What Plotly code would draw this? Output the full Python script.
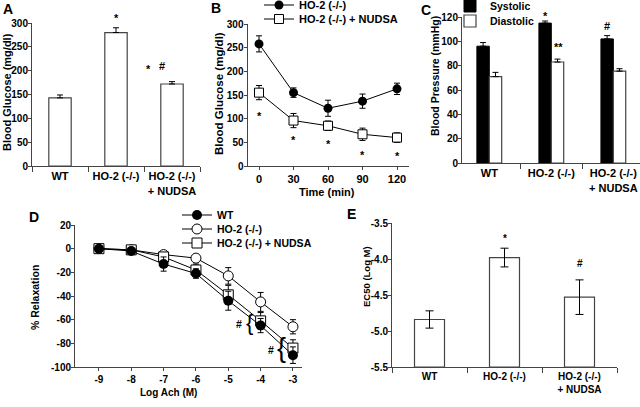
import plotly.graph_objects as go

W, H = 640, 407
FONT = "Liberation Sans"

# ---------------- data ----------------
# Panel A
a_cats = ["WT", "HO-2 (-/-)", "HO-2 (-/-)<br>+ NUDSA"]
a_glucose = [143, 280, 172]
a_err = [6, 10, 5]

# Panel B
b_time = [0, 30, 60, 90, 120]
b_ho2 = [258, 155, 122, 137, 163]
b_ho2_err = [17, 10, 17, 15, 12]
b_nudsa = [155, 96, 85, 67, 60]
b_nudsa_err = [15, 15, 10, 13, 10]
b_star_y = [112, 62, 53, 30, 28]

# Panel C
c_cats = a_cats
c_sys = [96, 115, 102]
c_sys_err = [3, 1.7, 2.7]
c_dia = [71, 83, 75.5]
c_dia_err = [3.5, 2.4, 2]

# Panel D
d_logach = [-9, -8, -7, -6, -5, -4, -3]
d_wt = [0, -2, -13, -21, -44, -65, -90]
d_wt_err = [0, 1, 6, 4, 8, 6, 7]
d_ho2 = [0, -1, -5, -8, -23, -45, -66]
d_ho2_err = [0, 1, 2, 3, 7, 8, 6]
d_nudsa = [0, -1, -7, -18, -39, -61, -84]
d_nudsa_err = [0, 1, 3, 5, 8, 7, 7]
d_xticks = [-9, -8, -7, -6, -5, -4, -3]
d_yticks = [20, 0, -20, -40, -60, -80, -100]

# Panel E
e_cats = a_cats
e_ec50 = [-4.84, -3.98, -4.53]
e_err = [0.12, 0.13, 0.24]
e_base = -5.5
e_yticks = [-3.5, -4.0, -4.5, -5.0, -5.5]

# ---------------- helpers ----------------
def xdom(l, r):
    return [l / W, r / W]

def ydom(top, bottom):
    return [1 - bottom / H, 1 - top / H]

def px(x):
    return x / W

def py(y):
    return 1 - y / H

AXC = "#444"
common = dict(showline=True, linecolor=AXC, linewidth=1, showgrid=False,
              zeroline=False, ticks="outside", ticklen=3, tickcolor=AXC,
              tickfont=dict(size=10, family=FONT, weight="bold", color="black"))
ycommon = dict(common, ticklabelstandoff=-2)

err_up = lambda arr: dict(type="data", array=arr, arrayminus=[0] * len(arr),
                          symmetric=False, color="black", thickness=1, width=3)
err_sym = lambda arr, w=3: dict(type="data", array=arr, color="black", thickness=1, width=w)

fig = go.Figure()

# A
fig.add_trace(go.Bar(x=a_cats, y=a_glucose, error_y=err_up(a_err),
                     marker=dict(color="white", line=dict(color=AXC, width=1.2)),
                     xaxis="x", yaxis="y", showlegend=False))

# B
fig.add_trace(go.Scatter(x=b_time, y=b_ho2, error_y=err_sym(b_ho2_err),
                         mode="lines+markers", name="HO-2 (-/-)",
                         line=dict(color="black", width=1),
                         marker=dict(symbol="circle", size=9, color="black"),
                         xaxis="x2", yaxis="y2", legend="legend"))
fig.add_trace(go.Scatter(x=b_time, y=b_nudsa, error_y=err_sym(b_nudsa_err),
                         mode="lines+markers", name="HO-2 (-/-) + NUDSA",
                         line=dict(color="black", width=1),
                         marker=dict(symbol="square", size=9, color="white",
                                     line=dict(color="black", width=1)),
                         xaxis="x2", yaxis="y2", legend="legend2"))

# C
fig.add_trace(go.Bar(x=c_cats, y=c_sys, error_y=err_up(c_sys_err), name="Systolic",
                     marker=dict(color="black", line=dict(color="black", width=1)),
                     xaxis="x3", yaxis="y3", legend="legend3"))
fig.add_trace(go.Bar(x=c_cats, y=c_dia, error_y=err_up(c_dia_err), name="Diastolic",
                     marker=dict(color="white", line=dict(color=AXC, width=1.2)),
                     xaxis="x3", yaxis="y3", legend="legend4"))

# D
fig.add_trace(go.Scatter(x=d_logach, y=d_ho2, error_y=err_sym(d_ho2_err),
                         mode="lines+markers", name="HO-2 (-/-)",
                         line=dict(color="black", width=1),
                         marker=dict(symbol="circle", size=10, color="white",
                                     line=dict(color="black", width=1)),
                         xaxis="x4", yaxis="y4", legend="legend6"))
fig.add_trace(go.Scatter(x=d_logach, y=d_nudsa, error_y=err_sym(d_nudsa_err),
                         mode="lines+markers", name="HO-2 (-/-) + NUDSA",
                         line=dict(color="black", width=1),
                         marker=dict(symbol="square", size=10, color="white",
                                     line=dict(color="black", width=1)),
                         xaxis="x4", yaxis="y4", legend="legend7"))
fig.add_trace(go.Scatter(x=d_logach, y=d_wt, error_y=err_sym(d_wt_err),
                         mode="lines+markers", name="WT",
                         line=dict(color="black", width=1),
                         marker=dict(symbol="circle", size=10, color="black"),
                         xaxis="x4", yaxis="y4", legend="legend5"))

# E
fig.add_trace(go.Bar(x=e_cats, y=[v - e_base for v in e_ec50], base=e_base,
                     error_y=err_sym(e_err, 4),
                     marker=dict(color="white", line=dict(color=AXC, width=1.2)),
                     xaxis="x5", yaxis="y5", showlegend=False))

# ---------------- layout ----------------
catfont = dict(size=11, family=FONT, weight="bold", color="black")

def leg(left_px, row_center_px, size=11):
    # a plotly legend row centre sits 14.5 px below the legend top
    return dict(x=px(left_px), y=py(row_center_px - 14.5), xanchor="left", yanchor="top",
                bgcolor="rgba(0,0,0,0)", font=dict(size=size, family=FONT, weight="bold"))

layout = dict(
    width=W, height=H, margin=dict(l=0, r=0, t=0, b=0, autoexpand=False),
    paper_bgcolor="white", plot_bgcolor="white",
    font=dict(family=FONT, color="black", weight="bold"),
    barmode="group", bargap=0.6, bargroupgap=0,
    xaxis=dict(common, domain=xdom(32, 200), anchor="y", type="category",
               range=[-0.5, 2.5], tickson="boundaries", ticklen=5, tickangle=0,
               tickfont=catfont),
    yaxis=dict(ycommon, domain=ydom(23, 166), anchor="x", range=[0, 300], dtick=50),
    xaxis2=dict(common, domain=xdom(247.5, 408.5), anchor="y2", range=[-10, 130],
                tickvals=b_time, tickfont=dict(size=11, family=FONT, weight="bold", color="black")),
    yaxis2=dict(ycommon, domain=ydom(24, 166), anchor="x2", range=[0, 300], dtick=50),
    xaxis3=dict(common, domain=xdom(462, 640), anchor="y3", type="category",
                range=[-0.44, 2.43], tickson="boundaries", ticklen=5, tickangle=0,
                tickfont=catfont),
    yaxis3=dict(ycommon, domain=ydom(17, 163), anchor="x3", range=[0, 120], dtick=20),
    xaxis4=dict(common, domain=xdom(75, 302), anchor="y4", range=[-9.74, -2.72],
                tickvals=d_xticks, ticktext=[str(v) for v in d_xticks]),
    yaxis4=dict(ycommon, domain=ydom(225, 367), anchor="x4", range=[-100, 20],
                tickvals=d_yticks, ticktext=[str(v) for v in d_yticks]),
    xaxis5=dict(common, domain=xdom(392, 617), anchor="y5", type="category",
                range=[-0.5, 2.5], tickson="boundaries", ticklen=5, tickangle=0,
                tickfont=dict(size=10, family=FONT, weight="bold", color="black")),
    yaxis5=dict(ycommon, domain=ydom(223, 367), anchor="x5", range=[-5.5, -3.5],
                tickvals=e_yticks, ticktext=[f"{v:.1f}" for v in e_yticks]),
    legend=leg(259, 5),
    legend2=leg(259, 19),
    legend3=leg(450, 6, 10.5),
    legend4=leg(450, 21, 10.5),
    legend5=leg(177, 215, 10.5),
    legend6=leg(177, 229, 10.5),
    legend7=leg(177, 243, 10.5),
)
fig.update_layout(**layout)

ann = []
def paper_text(text, x, y, size, angle=0):
    ann.append(dict(text=text, x=px(x), y=py(y), xref="paper", yref="paper",
                    showarrow=False, textangle=angle, xanchor="center", yanchor="middle",
                    font=dict(size=size, family=FONT, weight="bold", color="black")))

# panel letters
for letter, x, y in [("A", 8, 9), ("B", 216, 8), ("C", 426, 10), ("D", 34, 217), ("E", 351, 214)]:
    paper_text(letter, x, y, 14)

# axis titles
paper_text("Blood Glucose (mg/dl)", 7, 92, 11, -90)
paper_text("Blood Glucose (mg/dl)", 219, 94, 11.5, -90)
paper_text("Time (min)", 327, 192, 11)
paper_text("Blood Pressure (mmHg)", 435, 76, 10.5, -90)
paper_text("% Relaxation", 35, 298, 10.5, -90)
paper_text("Log Ach (M)", 168, 392, 10)
paper_text("EC50 (Log M)", 366, 277, 9.5, -90)

def data_text(text, x, y, xr, yr, size=11, xshift=0, yshift=0, weight="bold",
              ymax=None, pxper=None):
    # annotations above the axis top are pinned to the top and shifted in px
    if ymax is not None and y > ymax:
        yshift += (y - ymax) * pxper
        y = ymax
    ann.append(dict(text=text, x=x, y=y, xref=xr, yref=yr, showarrow=False,
                    xshift=xshift, yshift=yshift,
                    font=dict(size=size, family=FONT, weight=weight, color="black")))

a_pp = 143 / 300
c_pp = 146 / 120
# A markers
data_text("*", a_cats[1], 317, "x", "y", yshift=-3, ymax=300, pxper=a_pp)
data_text("*", a_cats[2], 209, "x", "y", xshift=-24, yshift=-3)
data_text("#", a_cats[2], 209, "x", "y", xshift=-10)
# B stars
for t, v in zip(b_time, b_star_y):
    data_text("*", t, v, "x2", "y2", yshift=-3)
# C markers
data_text("*", c_cats[1], 123.5, "x3", "y3", xshift=-6, yshift=-3, ymax=120, pxper=c_pp)
data_text("**", c_cats[1], 97.8, "x3", "y3", xshift=7, yshift=-3)
data_text("#", c_cats[2], 112.6, "x3", "y3", xshift=-6)
# D significance
data_text("#", -4.67, -63.7, "x4", "y4", size=10.5)
data_text("#", -3.68, -85.6, "x4", "y4", size=10.5)
data_text("{", -4.33, -62, "x4", "y4", size=22, weight="normal")
data_text("{", -3.34, -84, "x4", "y4", size=27, weight="normal")
# E markers
data_text("*", e_cats[1], -3.667, "x5", "y5", size=10, yshift=-3)
data_text("#", e_cats[2], -4.06, "x5", "y5", size=10)

fig.update_layout(annotations=ann)
fig.write_html("out.html", config={"displayModeBar": False},
               post_script="document.body.style.margin='0';document.body.style.overflow='hidden';")
